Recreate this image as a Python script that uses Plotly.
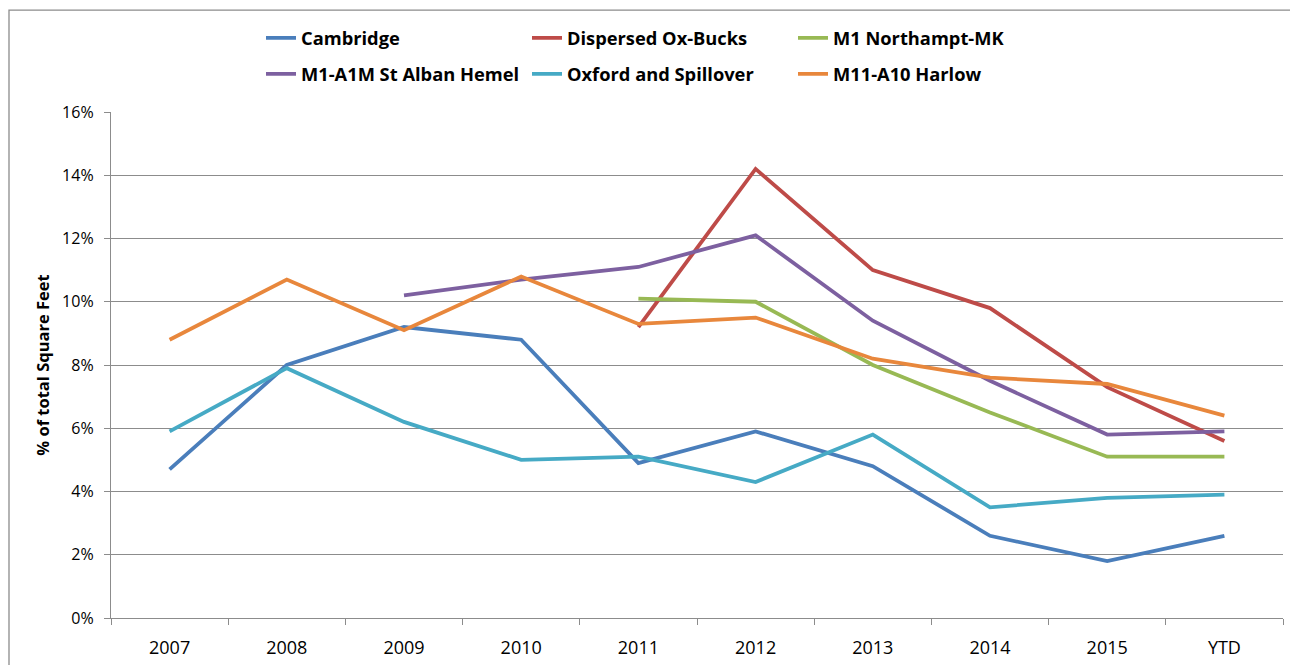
import plotly.graph_objects as go

# Share of total square feet by sub-market (%)
years = ["2007", "2008", "2009", "2010", "2011", "2012", "2013", "2014", "2015", "YTD"]
cambridge = [4.7, 8.0, 9.2, 8.8, 4.9, 5.9, 4.8, 2.6, 1.8, 2.6]
dispersed_ox_bucks = [None, None, None, None, 9.2, 14.2, 11.0, 9.8, 7.3, 5.6]
m1_northampt_mk = [None, None, None, None, 10.1, 10.0, 8.0, 6.5, 5.1, 5.1]
m1_a1m_st_alban = [None, None, 10.2, 10.7, 11.1, 12.1, 9.4, 7.5, 5.8, 5.9]
oxford_spillover = [5.9, 7.9, 6.2, 5.0, 5.1, 4.3, 5.8, 3.5, 3.8, 3.9]
m11_a10_harlow = [8.8, 10.7, 9.1, 10.8, 9.3, 9.5, 8.2, 7.6, 7.4, 6.4]

y_ticks = [0, 2, 4, 6, 8, 10, 12, 14, 16]

series = [
    ("Cambridge", cambridge, "#4A7EBB", "legend"),
    ("Dispersed Ox-Bucks", dispersed_ox_bucks, "#BE4B48", "legend"),
    ("M1 Northampt-MK", m1_northampt_mk, "#98B954", "legend"),
    ("M1-A1M St Alban Hemel", m1_a1m_st_alban, "#7D60A0", "legend2"),
    ("Oxford and Spillover", oxford_spillover, "#46AAC5", "legend2"),
    ("M11-A10 Harlow", m11_a10_harlow, "#E8873C", "legend2"),
]

FONT = "Open Sans"
GRID = "#8C8C8C"

fig = go.Figure()
for name, vals, color, leg in series:
    fig.add_trace(go.Scatter(
        x=years, y=vals, name=name, mode="lines",
        line=dict(color=color, width=3.8),
        connectgaps=False, legend=leg,
    ))

# plot area spans x 111..1283 px, y 112..618 px
L, R, T, B = 111, 7, 112, 46.5
W, H = 1290, 665
pw, ph = W - L - R, H - T - B

def px_x(x):
    return (x - L) / pw

def px_y(y):
    return (H - B - y) / ph

legend_common = dict(
    orientation="h", xanchor="left", yanchor="middle",
    entrywidth=221, entrywidthmode="pixels",
    font=dict(family=FONT, size=18.3, color="#000000", weight="bold"),
    bgcolor="rgba(0,0,0,0)", itemwidth=30,
)

fig.update_layout(
    width=W, height=H,
    margin=dict(l=L, r=R, t=T, b=B),
    paper_bgcolor="white", plot_bgcolor="white",
    font=dict(family=FONT, color="#000000"),
    showlegend=True,
    legend=dict(x=px_x(261), y=px_y(38), **legend_common),
    legend2=dict(x=px_x(261), y=px_y(74), **legend_common),
    xaxis=dict(
        type="category", range=[-0.5, 9.5],
        showgrid=False, showline=True, linecolor=GRID, linewidth=1.3,
        ticks="outside", tickson="boundaries", ticklen=6, tickcolor=GRID,
        tickwidth=1.3, ticklabelstandoff=13,
        tickfont=dict(family=FONT, size=18, color="#000000"),
        fixedrange=True,
    ),
    yaxis=dict(
        range=[0, 16], tickvals=y_ticks,
        ticktext=[f"{v}%" for v in y_ticks],
        showgrid=True, gridcolor=GRID, gridwidth=1.3,
        showline=True, linecolor=GRID, linewidth=1.3,
        ticks="outside", ticklen=6, tickcolor=GRID, tickwidth=1.3,
        ticklabelstandoff=7,
        tickfont=dict(family=FONT, size=16, color="#000000"),
        zeroline=False,
        title=dict(text="% of total Square Feet", standoff=8,
                   font=dict(family=FONT, size=16.5, color="#000000", weight="bold")),
        fixedrange=True,
    ),
    shapes=[dict(
        type="rect", xref="paper", yref="paper",
        x0=px_x(9), x1=px_x(1300), y0=px_y(680), y1=px_y(10),
        line=dict(color="#8C8C8C", width=1.3), fillcolor="rgba(0,0,0,0)",
        layer="below",
    )],
)

fig.write_html("out.html")
